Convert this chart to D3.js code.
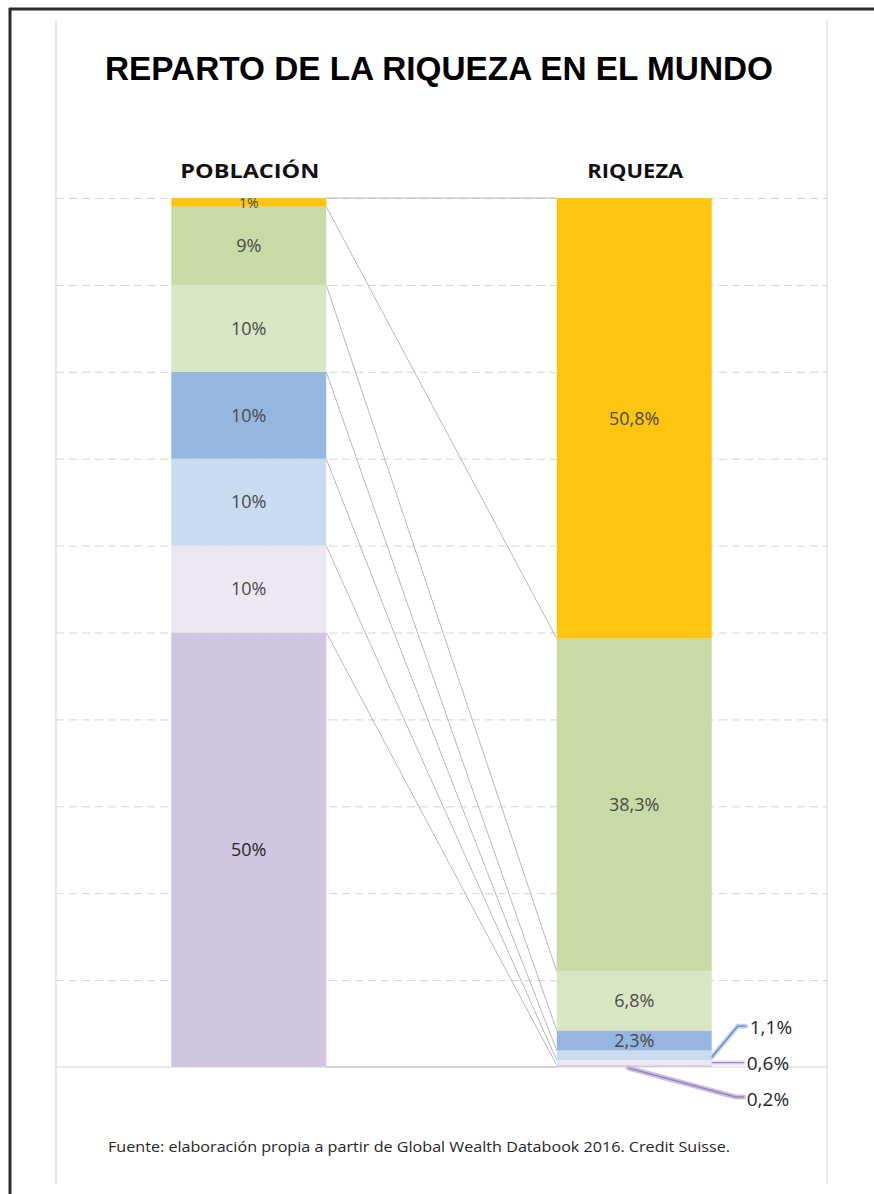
<!DOCTYPE html>
<html>
<head>
<meta charset="utf-8">
<script src="https://cdn.jsdelivr.net/npm/d3@7"></script>
<style>
  body { margin: 0; background: #fff; }
  svg { display: block; }
</style>
</head>
<body>
<svg id="chart" width="874" height="1194"></svg>
<script>
// data
var categories = ['POBLACIÓN', 'RIQUEZA'];
var groups = ['50% inferior', '10% (5)', '10% (4)', '10% (3)', '10% (2)', '9%', '1% superior'];
var poblacion = [50, 10, 10, 10, 10, 9, 1];
var riqueza = [0.2, 0.6, 1.1, 2.3, 6.8, 38.3, 50.8];
var poblacionLabels = ['50%', '10%', '10%', '10%', '10%', '9%', '1%'];
var riquezaLabels = ['0,2%', '0,6%', '1,1%', '2,3%', '6,8%', '38,3%', '50,8%'];
var colors = ['#d0c6df', '#ece7f0', '#c8dbf1', '#95b7df', '#d9e6c3', '#c9daa7', '#fec510'];
var gridTicks = d3.range(0, 101, 10);

var svg = d3.select('#chart');

// outer frame (cropped screenshot border)
svg.append('line').attr('x1', 9).attr('x2', 874).attr('y1', 9).attr('y2', 9)
  .attr('stroke', '#2b2b2b').attr('stroke-width', 3);
svg.append('line').attr('x1', 10).attr('x2', 10).attr('y1', 8).attr('y2', 1194)
  .attr('stroke', '#2b2b2b').attr('stroke-width', 3);
// chart area edges
[56, 827].forEach(function(x){
  svg.append('line').attr('x1', x).attr('x2', x).attr('y1', 20).attr('y2', 1184)
    .attr('stroke', '#e2e2e2').attr('stroke-width', 1.5);
});

var left = 56, right = 827;
var y = d3.scaleLinear().domain([0, 100]).range([1067, 198]);
var x = d3.scaleBand().domain(categories).range([left, right])
  .paddingInner(0.598).paddingOuter(0.299);

// gridlines
var grid = svg.append('g').attr('transform', 'translate(' + left + ',0)')
  .call(d3.axisLeft(y).tickValues(gridTicks.slice(1)).tickSize(-(right - left)).tickFormat(''));
grid.select('.domain').remove();
grid.selectAll('line').attr('stroke', '#d4d4d4').attr('stroke-dasharray', '8,5').attr('stroke-width', 1);
svg.append('line').attr('x1', left).attr('x2', right).attr('y1', y(0)).attr('y2', y(0))
  .attr('stroke', '#d9d9d9').attr('stroke-width', 1.2);

// stacks
function stackOf(vals){
  var acc = 0;
  return vals.map(function(v, i){ var s = {i: i, v: v, y0: acc, y1: acc + v}; acc += v; return s; });
}
var sp = stackOf(poblacion), sr = stackOf(riqueza);
var xp = x('POBLACIÓN'), xr = x('RIQUEZA'), bw = x.bandwidth();

// connector lines between bars
var bounds = d3.range(0, groups.length + 1);
svg.append('g').selectAll('line').data(bounds).enter().append('line')
  .attr('x1', xp + bw).attr('x2', xr)
  .attr('y1', function(k){ return y(d3.sum(poblacion.slice(0, k))); })
  .attr('y2', function(k){ return y(Math.min(100, d3.sum(riqueza.slice(0, k)))); })
  .attr('stroke', '#b8b8b8').attr('stroke-width', 1);

function drawBars(stack, x0){
  svg.append('g').selectAll('rect').data(stack).enter().append('rect')
    .attr('x', x0).attr('width', bw)
    .attr('y', function(d){ return y(Math.min(100, d.y1)); })
    .attr('height', function(d){ return y(d.y0) - y(Math.min(100, d.y1)); })
    .attr('fill', function(d){ return colors[d.i]; });
}
drawBars(sp, xp);
drawBars(sr, xr);

var font = '"Open Sans", "Noto Sans", sans-serif';

// labels inside population bar
svg.append('g').selectAll('text').data(sp).enter().append('text')
  .attr('x', xp + bw / 2)
  .attr('y', function(d){ return d.v < 2 ? y(d.y1) + 5 : y((d.y0 + d.y1) / 2); })
  .attr('dy', '0.35em')
  .attr('text-anchor', 'middle')
  .attr('font-family', font)
  .attr('font-size', function(d){ return d.v < 2 ? 14 : 18; })
  .attr('fill', function(d){ return d.i === 0 ? '#262626' : '#4a4a4a'; })
  .text(function(d){ return poblacionLabels[d.i]; });

// labels inside wealth bar (big segments)
svg.append('g').selectAll('text').data(sr.filter(function(d){ return d.v >= 2; })).enter().append('text')
  .attr('x', xr + bw / 2)
  .attr('y', function(d){ return y((d.y0 + Math.min(100, d.y1)) / 2); })
  .attr('dy', '0.35em')
  .attr('text-anchor', 'middle')
  .attr('font-family', font).attr('font-size', 18)
  .attr('fill', '#4a4a4a')
  .text(function(d){ return riquezaLabels[d.i]; });

// callouts for the tiny wealth segments
var callouts = [
  {i: 2, pts: [[xr + bw, y(sr[2].y0 + sr[2].v / 2) + 2], [xr + bw + 26, y(4.7)], [xr + bw + 34, y(4.7)]], lx: xr + bw + 38, ly: y(4.6), c: '#5b86bd', glow: '#c3d6ee'},
  {i: 1, pts: [[xr + bw, y(sr[1].y0 + sr[1].v / 2)], [xr + bw + 32, y(sr[1].y0 + sr[1].v / 2)]], lx: xr + bw + 35, ly: y(0.45), c: '#9a86bb', glow: '#e8e2f0'},
  {i: 0, pts: [[xr + bw / 2 - 6, y(0) + 1], [xr + bw + 24, y(0) + 30], [xr + bw + 32, y(0) + 30]], lx: xr + bw + 35, ly: y(0) + 32, c: '#9a82c0', glow: '#cdbfe0'}
];
var line = d3.line();
callouts.forEach(function(c){
  svg.append('path').attr('d', line(c.pts)).attr('fill', 'none')
    .attr('stroke', c.glow).attr('stroke-width', 5).attr('stroke-linejoin', 'round').attr('stroke-linecap', 'round');
  svg.append('path').attr('d', line(c.pts)).attr('fill', 'none')
    .attr('stroke', c.c).attr('stroke-width', 1.3);
  svg.append('text').attr('x', c.lx).attr('y', c.ly).attr('dy', '0.35em')
    .attr('font-family', font).attr('font-size', 19).attr('fill', '#262626')
    .text(riquezaLabels[c.i]);
});

// headings
svg.append('text').attr('x', 439).attr('y', 80).attr('text-anchor', 'middle')
  .attr('font-family', '"Liberation Sans", Arial, sans-serif').attr('font-weight', 'bold')
  .attr('font-size', 34).attr('textLength', 668).attr('lengthAdjust', 'spacingAndGlyphs')
  .attr('fill', '#000').text('REPARTO DE LA RIQUEZA EN EL MUNDO');

svg.append('g').selectAll('text').data(categories).enter().append('text')
  .attr('x', function(d){ return x(d) + bw / 2 + 1; }).attr('y', 178)
  .attr('text-anchor', 'middle')
  .attr('font-family', font).attr('font-weight', 'bold').attr('font-size', 20)
  .attr('textLength', function(d){ return d === 'RIQUEZA' ? 96 : 139; })
  .attr('lengthAdjust', 'spacingAndGlyphs')
  .attr('fill', '#111').text(function(d){ return d; });

svg.append('text').attr('x', 108).attr('y', 1152)
  .attr('font-family', font).attr('font-size', 15)
  .attr('textLength', 622).attr('lengthAdjust', 'spacingAndGlyphs')
  .attr('fill', '#262626')
  .text('Fuente: elaboración propia a partir de Global Wealth Databook 2016. Credit Suisse.');
</script>
</body>
</html>
